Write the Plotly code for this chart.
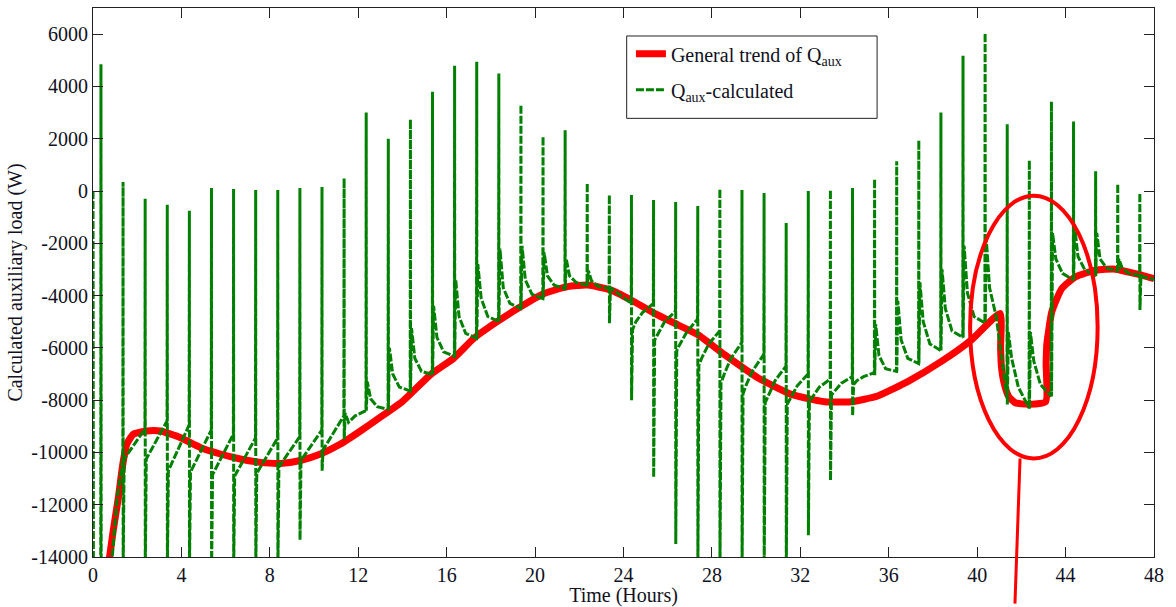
import plotly.graph_objects as go

# ---------------- auxiliary load, calculated (W) ----------------
# start-up transient before the first regular spike
STARTUP_T = [0.0, 0.02, 0.35, 0.36, 0.37, 0.85, 1.10]
STARTUP_Q = [0, -16000, -16000, 4850, -16000, -14200, -11700]

# one spike per hour; per-cycle readings
SPIKE_T = [1.36, 2.36, 3.36, 4.36, 5.36, 6.36, 7.36, 8.36, 9.36, 10.36,
           11.36, 12.36, 13.36, 14.36, 15.36, 16.36, 17.36, 18.36, 19.36, 20.36,
           21.36, 22.36, 23.36, 24.36, 25.36, 26.36, 27.36, 28.36, 29.36, 30.36,
           31.36, 32.36, 33.36, 34.36, 35.36, 36.36, 37.36, 38.36, 39.36, 40.36,
           41.36, 42.36, 43.36, 44.36, 45.36, 46.36, 47.36]
# value just before the spike
PRE_Q = [-10300, -9100, -8800, -8950, -9150, -9300, -9450, -9450, -9400, -9150,
         -8600, -8400, -8350, -7650, -7020, -6320, -5630, -4990, -4490, -4110,
         -3730, -3600, -3730, -4300, -4300, -4600, -4900, -5350, -5800, -6250,
         -6700, -7000, -7200, -7100, -6950, -6900, -6600, -6100, -5600, -5050,
         -7900, -8300, -7850, -3400, -3250, -3050, -3220]
# top of the spike
PEAK_Q = [340, -300, -530, -760, 110, 80, 40, 40, 110, 150,
          490, 3000, 2000, 2740, 3800, 4790, 4940, 4490, 3300, 2090,
          2320, 300, -150, -150, -340, -420, -570, 80, 40, -80,
          -1220, 0, 40, 110, 460, 1140, 1940, 3000, 5170, 6040,
          2550, 1180, 3420, 2660, 760, 270, -80]
# bottom of the spike
LOW_Q = [-14500, -14500, -14500, -14500, -14500, -14500, -14500, -14500, -13350, -10700,
         -9500, -8400, -8350, -7650, -7020, -6320, -5630, -4990, -4490, -4110,
         -3730, -3600, -5060, -8000, -10950, -13500, -14500, -14500, -14500, -14500,
         -14500, -13170, -11070, -8600, -7050, -6900, -6600, -6100, -5600, -5050,
         -8200, -8350, -7850, -3400, -3250, -3050, -4550]
# level the curve settles at right after the spike
POST_Q = [-10250, -10250, -10700, -10750, -10850, -10900, -10800, -10550, -10300, -9900,
          -8500, -7300, -6000, -5250, -4400, -3400, -2800, -2200, -2100, -2350,
          -2600, -3050, -3700, -5300, -5700, -6100, -6650, -7350, -7750, -8100,
          -8150, -8050, -7800, -7400, -5100, -4200, -3500, -3000, -2100, -1800,
          -5400, -5400, -1600, -1350, -1600, -2600, -3220]
# readings 0.2 h and 0.5 h after the spike
MID1_Q = [-10070, -10020, -10420, -10500, -10600, -10670, -10590, -10370, -10120, -9690,
          -8850, -7950, -7000, -6400, -5600, -4800, -4100, -3700, -3400, -3250,
          -3250, -3450, -3800, -5000, -5450, -5850, -6350, -7000, -7400, -7800,
          -7900, -7850, -7650, -7250, -6300, -5700, -5000, -4500, -3900, -3700,
          -6400, -6500, -2600, -2500, -2600, -2950, -3300]
MID2_Q = [-9700, -9560, -9860, -9990, -10110, -10210, -10150, -10000, -9750, -9250,
          -8600, -8250, -7500, -6900, -6150, -5450, -4800, -4300, -3950, -3600,
          -3500, -3650, -4000, -4650, -5000, -5400, -5850, -6400, -6850, -7250,
          -7450, -7500, -7350, -7100, -6800, -6400, -5850, -5350, -4800, -4800,
          -7500, -7400, -3150, -3000, -2950, -3150, -3340]
END_T = [48.0]
END_Q = [-3400]

# hours (relative to the spike) at which the per-cycle readings apply
READ_OFFSETS = [-0.01, 0.0, 0.005, 0.05, 0.2, 0.5]

# ---------------- general trend of Q_aux ----------------
TREND_T = [0.70, 0.92, 1.15, 1.35, 1.53, 1.83, 2.43, 3.04, 3.94, 4.85,
           5.76, 6.66, 7.57, 8.48, 9.38, 10.29, 11.2, 12.1, 13.0, 14.0,
           15.28, 16.33, 17.24, 18.3, 19.36, 20.41, 21.47, 22.38, 23.44, 24.34,
           25.4, 26.46, 27.37, 28.57, 30.09, 31.6, 33.1, 34.3, 35.5, 36.9,
           38.4, 39.75, 41.04, 41.06, 41.10, 41.2, 41.42, 41.72, 42.32, 43.1,
           43.12, 43.15, 43.38, 43.83, 44.44, 45.35, 46.25, 47.16, 48.0]
TREND_Q = [-14300, -12960, -11710, -10440, -9680, -9300, -9180, -9180, -9430, -9810,
           -10060, -10250, -10380, -10420, -10310, -10060, -9680, -9180, -8650, -8050,
           -7020, -6390, -5630, -4990, -4420, -3920, -3660, -3600, -3790, -4170,
           -4680, -5120, -5500, -6260, -7150, -7780, -8060, -8060, -7840, -7270,
           -6510, -5690, -4680, -6000, -6750, -7280, -7850, -8100, -8160, -8060,
           -6600, -5880, -4610, -3730, -3290, -3030, -2990, -3160, -3350]

# highlighted region (hours / W) and its pointer
RING_T = (39.68, 45.45)
RING_Q = (-10230, -180)
POINTER_T = (41.94, 41.71)

X_TICKS = list(range(0, 49, 4))
Y_TICKS = list(range(-14000, 6001, 2000))

X_RANGE = (0, 48)
Y_RANGE = (-14000, 7000)

# assemble the calculated-load path
calc_t, calc_q = list(STARTUP_T), list(STARTUP_Q)
for i, t in enumerate(SPIKE_T):
    vals = [PRE_Q[i], PEAK_Q[i], LOW_Q[i], POST_Q[i], MID1_Q[i], MID2_Q[i]]
    for off, v in zip(READ_OFFSETS, vals):
        calc_t.append(round(t + off, 3))
        calc_q.append(v)
calc_t += END_T
calc_q += END_Q

SERIF = "Liberation Serif"
INK = "#111122"

fig = go.Figure()
fig.add_trace(go.Scatter(
    x=TREND_T, y=TREND_Q, mode="lines",
    name="General trend of Q<sub>aux</sub>",
    line=dict(color="#ff0000", width=7, shape="spline", smoothing=0.5),
    legendgroup="a",
))
fig.add_trace(go.Scatter(
    x=calc_t, y=calc_q, mode="lines",
    name="Q<sub>aux</sub>-calculated",
    line=dict(color="#008000", width=3, dash="8px,2px"),
    legendgroup="b",
))

# ring around the 40-45 h region and a pointer leaving the plot
fig.add_shape(type="circle", xref="x", yref="y",
              x0=RING_T[0], x1=RING_T[1], y0=RING_Q[0], y1=RING_Q[1],
              line=dict(color="#ff0000", width=4), layer="above")
span_q = Y_RANGE[1] - Y_RANGE[0]
fig.add_shape(type="line", xref="paper", yref="paper",
              x0=POINTER_T[0] / X_RANGE[1], y0=(RING_Q[0] - Y_RANGE[0]) / span_q,
              x1=POINTER_T[1] / X_RANGE[1], y1=-0.085,
              line=dict(color="#ff0000", width=3), layer="above")

# framed legend panel
fig.add_shape(type="rect", xref="paper", yref="paper",
              x0=0.503, x1=0.739, y0=0.799, y1=0.949,
              line=dict(color="#222222", width=1), fillcolor="white", layer="above")

axis_common = dict(
    showline=True, linecolor="#222222", linewidth=1,
    mirror="ticks", ticks="inside", ticklen=10, tickwidth=1, tickcolor="#222222",
    showgrid=False, zeroline=False,
    tickfont=dict(family=SERIF, size=20, color=INK),
)

fig.update_layout(
    width=1176, height=607,
    margin=dict(l=93, r=22, t=7, b=47),
    paper_bgcolor="white", plot_bgcolor="white",
    font=dict(family=SERIF, size=20, color=INK),
    showlegend=True,
    legend=dict(
        x=0.507, y=0.952, xanchor="left", yanchor="top",
        bgcolor="rgba(0,0,0,0)", borderwidth=0,
        font=dict(family=SERIF, size=20, color=INK),
        tracegroupgap=7,
    ),
    xaxis=dict(
        range=list(X_RANGE), tickmode="array", tickvals=X_TICKS,
        ticktext=[str(v) for v in X_TICKS],
        title=dict(text="Time (Hours)", standoff=0,
                   font=dict(family=SERIF, size=20, color=INK)),
        **axis_common,
    ),
    yaxis=dict(
        range=list(Y_RANGE), tickmode="array", tickvals=Y_TICKS,
        ticktext=[str(v) for v in Y_TICKS],
        title=dict(text="Calculated auxiliary load (W)", standoff=3,
                   font=dict(family=SERIF, size=20, color=INK)),
        **axis_common,
    ),
)

fig.write_html("out.html")
